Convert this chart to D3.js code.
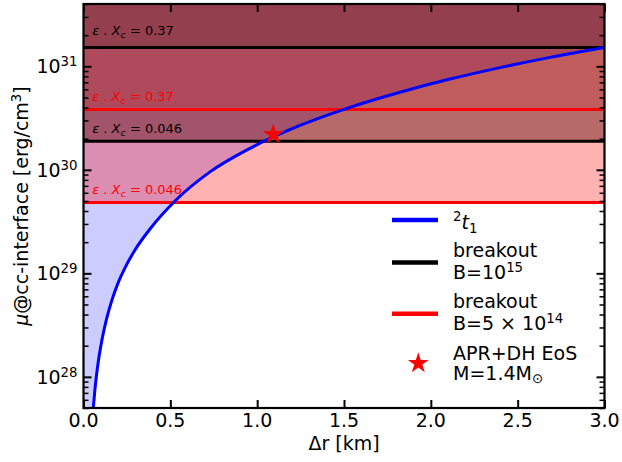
<!DOCTYPE html>
<html><head><meta charset="utf-8">
<script src="https://cdn.jsdelivr.net/npm/d3@7"></script>
<style>
body{margin:0;background:#fff}
svg{display:block}
text{font-family:"DejaVu Sans",sans-serif;fill:#000}
</style>
</head><body>
<svg id="chart" width="622" height="462"></svg>
<script>
// ---- data ----
const dr = [0.0564, 0.0662, 0.0754, 0.0864, 0.0985, 0.1152, 0.1330, 0.1641, 0.1987, 0.2390, 0.2965,
            0.3829, 0.5269, 0.7284, 0.9587, 1.2466, 1.5345, 1.8225, 2.1104, 2.3983, 2.6862, 3.0];
const mu = [5.00e27, 7.65e27, 1.053e28, 1.445e28, 1.934e28, 2.694e28, 3.629e28, 5.538e28, 8.05e28, 1.131e29, 1.681e29,
            2.682e29, 4.998e29, 9.55e29, 1.614e30, 2.682e30, 4.018e30, 5.62e30, 7.53e30, 9.72e30, 1.220e31, 1.52e31];
const breakoutB15 = [1.89e30, 1.52e31];     // black lines: eps.Xc = 0.046, 0.37
const breakoutB5e14 = [4.84e29, 3.83e30];   // red lines:   eps.Xc = 0.046, 0.37
const epsXcLabels = ["0.046", "0.37"];
const starDr = [1.093];
const starMu = [2.2e30];
const xTicks = [0.0, 0.5, 1.0, 1.5, 2.0, 2.5, 3.0];
const xTickLabels = ["0.0", "0.5", "1.0", "1.5", "2.0", "2.5", "3.0"];
const yTickExps = [28, 29, 30, 31];
const xDomain = [0, 3];
const yDomain = [5e27, 4e31];

// ---- layout ----
const L = 83.5, R = 604.5, T = 4, B = 408;
const FS = 19;

const svg = d3.select("#chart");
const x = d3.scaleLinear().domain(xDomain).range([L, R]);
const y = d3.scaleLog().domain(yDomain).range([B, T]);

svg.append("defs").append("clipPath").attr("id", "clip")
  .append("rect").attr("x", L).attr("y", T).attr("width", R - L).attr("height", B - T);

const plot = svg.append("g").attr("clip-path", "url(#clip)");

// curve points
const pts = dr.map((d, i) => [x(d), y(mu[i])]);
const lineGen = d3.line().curve(d3.curveMonotoneX);
const curvePath = lineGen(pts);

// blue fill (above / left of the curve)
plot.append("path")
  .attr("d", curvePath + `L${x(xDomain[1])},${y(yDomain[1])}L${x(xDomain[0])},${y(yDomain[1])}L${x(xDomain[0])},${y(yDomain[0])}Z`)
  .attr("fill", "#0000ff").attr("fill-opacity", 0.2);

// band fills from each line up to the top
function band(v, color, op) {
  plot.append("rect")
    .attr("x", x(xDomain[0])).attr("width", x(xDomain[1]) - x(xDomain[0]))
    .attr("y", y(yDomain[1])).attr("height", y(v) - y(yDomain[1]))
    .attr("fill", color).attr("fill-opacity", op);
}
band(breakoutB15[0], "#000000", 0.40);
band(breakoutB5e14[0], "#ff0000", 0.30);
band(breakoutB5e14[1], "#ff0000", 0.13);
band(breakoutB15[1], "#000000", 0.15);

// horizontal lines
function hline(v, color) {
  plot.append("line")
    .attr("x1", x(xDomain[0])).attr("x2", x(xDomain[1]))
    .attr("y1", y(v)).attr("y2", y(v))
    .attr("stroke", color).attr("stroke-width", 3);
}
breakoutB15.forEach(v => hline(v, "#000000"));
breakoutB5e14.forEach(v => hline(v, "#ff0000"));

// blue curve
plot.append("path").attr("d", curvePath)
  .attr("fill", "none").attr("stroke", "#0000ff").attr("stroke-width", 3);

// band labels
function epsLabel(v, txt, color, off) {
  const t = svg.append("text")
    .attr("x", x(0.05)).attr("y", y(v) - off)
    .attr("font-size", 13).style("fill", color);
  t.append("tspan").attr("font-style", "italic").text("ε");
  t.append("tspan").text(" . ");
  t.append("tspan").attr("font-style", "italic").text("X");
  t.append("tspan").attr("font-style", "italic").attr("font-size", 9.5).attr("dy", 3).text("c");
  t.append("tspan").attr("dy", -3).text(" = " + txt);
}
epsLabel(breakoutB15[1], epsXcLabels[1], "#000", 12);
epsLabel(breakoutB5e14[1], epsXcLabels[1], "#ff0000", 8);
epsLabel(breakoutB15[0], epsXcLabels[0], "#000", 8);
epsLabel(breakoutB5e14[0], epsXcLabels[0], "#ff0000", 8);

// star
const starSym = d3.symbol().type(d3.symbolStar).size(11 * 11 / 0.8908130915292852);
svg.append("path").attr("d", starSym())
  .attr("transform", `translate(${x(starDr[0])},${y(starMu[0])})`)
  .attr("fill", "#ff0000");

// ---- axes (ticks pointing inward) ----
const allY = y.ticks().filter(v => v >= yDomain[0] && v <= yDomain[1]);
const isMajor = v => Math.abs(Math.log10(v) - Math.round(Math.log10(v))) < 1e-9;
const majorY = allY.filter(isMajor);
const minorY = allY.filter(v => !isMajor(v));

function styleAxis(g, w) {
  g.select(".domain").remove();
  g.selectAll(".tick line").attr("stroke", "#000").attr("stroke-width", w);
  g.selectAll(".tick text").remove();
}
svg.append("g").attr("transform", `translate(0,${B})`)
  .call(d3.axisBottom(x).tickValues(xTicks).tickSize(-8).tickFormat(""))
  .call(g => styleAxis(g, 2));
svg.append("g").attr("transform", `translate(0,${T})`)
  .call(d3.axisTop(x).tickValues(xTicks).tickSize(-8).tickFormat(""))
  .call(g => styleAxis(g, 2));
svg.append("g").attr("transform", `translate(${L},0)`)
  .call(d3.axisLeft(y).tickValues(majorY).tickSize(-8).tickFormat(""))
  .call(g => styleAxis(g, 2));
svg.append("g").attr("transform", `translate(${L},0)`)
  .call(d3.axisLeft(y).tickValues(minorY).tickSize(-5).tickFormat(""))
  .call(g => styleAxis(g, 1.5));
svg.append("g").attr("transform", `translate(${R},0)`)
  .call(d3.axisRight(y).tickValues(majorY).tickSize(-8).tickFormat(""))
  .call(g => styleAxis(g, 2));
svg.append("g").attr("transform", `translate(${R},0)`)
  .call(d3.axisRight(y).tickValues(minorY).tickSize(-5).tickFormat(""))
  .call(g => styleAxis(g, 1.5));

// frame
svg.append("rect").attr("x", L).attr("y", T).attr("width", R - L).attr("height", B - T)
  .attr("fill", "none").attr("stroke", "#000").attr("stroke-width", 2.2);

// tick labels
xTicks.forEach((v, i) => {
  svg.append("text").attr("x", x(v)).attr("y", 427)
    .attr("text-anchor", "middle").attr("font-size", FS).text(xTickLabels[i]);
});
yTickExps.forEach(e => {
  const t = svg.append("text").attr("x", 77.5).attr("y", y(Math.pow(10, e)) + 7)
    .attr("text-anchor", "end").attr("font-size", FS);
  t.append("tspan").text("10");
  t.append("tspan").attr("font-size", 13.3).attr("dy", -7).text(String(e));
});

// axis titles
svg.append("text").attr("x", (L + R) / 2).attr("y", 449.5)
  .attr("text-anchor", "middle").attr("font-size", FS).text("Δr [km]");
const yl = svg.append("text").attr("transform", `translate(28,${(T + B) / 2}) rotate(-90)`)
  .attr("text-anchor", "middle").attr("font-size", FS);
yl.append("tspan").attr("font-style", "italic").text("μ");
yl.append("tspan").text("@cc-interface [erg/cm");
yl.append("tspan").attr("font-size", 13.3).attr("dy", -7).text("3");
yl.append("tspan").attr("dy", 7).text("]");

// ---- legend ----
const lg = svg.append("g");
const hx1 = 392, hx2 = 438, tx = 453;
function legLine(yy, color) {
  lg.append("line").attr("x1", hx1).attr("x2", hx2).attr("y1", yy).attr("y2", yy)
    .attr("stroke", color).attr("stroke-width", 4.5);
}
// entry 1
legLine(220, "#0000ff");
{
  const t = lg.append("text").attr("x", tx).attr("y", 229).attr("font-size", FS);
  t.append("tspan").attr("font-size", 13.3).attr("dy", -8).text("2");
  t.append("tspan").attr("font-style", "italic").attr("dy", 8).text("t");
  t.append("tspan").attr("font-size", 13.3).attr("dy", 4).text("1");
}
// entry 2
legLine(262.5, "#000000");
lg.append("text").attr("x", tx).attr("y", 257.3).attr("font-size", FS).text("breakout");
{
  const t = lg.append("text").attr("x", tx).attr("y", 279).attr("font-size", FS);
  t.append("tspan").text("B=10");
  t.append("tspan").attr("font-size", 13.3).attr("dy", -7).text("15");
}
// entry 3
legLine(313.7, "#ff0000");
lg.append("text").attr("x", tx).attr("y", 308.3).attr("font-size", FS).text("breakout");
{
  const t = lg.append("text").attr("x", tx).attr("y", 330).attr("font-size", FS);
  t.append("tspan").text("B=5 × 10");
  t.append("tspan").attr("font-size", 13.3).attr("dy", -7).text("14");
}
// entry 4
lg.append("path").attr("d", starSym())
  .attr("transform", `translate(418.3,363.3)`).attr("fill", "#ff0000");
lg.append("text").attr("x", tx).attr("y", 360).attr("font-size", FS).text("APR+DH EoS");
{
  const t = lg.append("text").attr("x", tx).attr("y", 380).attr("font-size", FS);
  t.append("tspan").text("M=1.4M");
  t.append("tspan").attr("font-size", 13.3).attr("dy", 3).text("⊙");
}
</script>
</body></html>
